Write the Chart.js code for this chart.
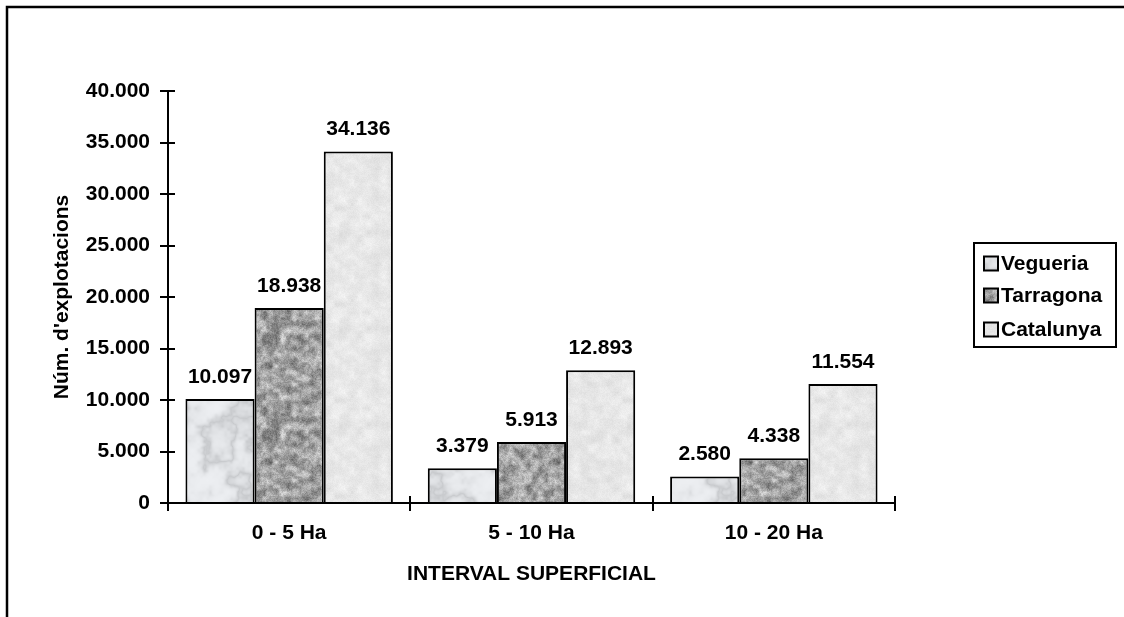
<!DOCTYPE html>
<html>
<head>
<meta charset="utf-8">
<script src="https://cdn.jsdelivr.net/npm/chart.js@4"></script>
<style>
  html, body { margin: 0; padding: 0; background: #ffffff; }
  #wrap { width: 1124px; height: 617px; position: relative; }
</style>
</head>
<body>
<div id="wrap"><canvas id="c" width="1124" height="617"></canvas></div>
<script>
// ---- data ----
const categories = ["0 - 5 Ha", "5 - 10 Ha", "10 - 20 Ha"];
const seriesNames = ["Vegueria", "Tarragona", "Catalunya"];
const vegueria = [10097, 3379, 2580];
const tarragona = [18938, 5913, 4338];
const catalunya = [34136, 12893, 11554];
const yTicks = [0, 5000, 10000, 15000, 20000, 25000, 30000, 35000, 40000];
const xTitle = "INTERVAL SUPERFICIAL";
const yTitle = "Núm. d'explotacions";

// ---- helpers ----
function fmt(v) {
  const s = String(Math.round(v));
  return s.replace(/\B(?=(\d{3})+(?!\d))/g, ".");
}
function hash(ix, iy, seed) {
  const h = Math.sin(ix * 127.1 + iy * 311.7 + seed * 74.7) * 43758.5453;
  return h - Math.floor(h);
}
function vnoise(x, y, period, seed) {
  const x0 = Math.floor(x), y0 = Math.floor(y);
  const fx = x - x0, fy = y - y0;
  const sx = fx * fx * (3 - 2 * fx), sy = fy * fy * (3 - 2 * fy);
  const m = (a) => ((a % period) + period) % period;
  const a = hash(m(x0), m(y0), seed), b = hash(m(x0 + 1), m(y0), seed);
  const c = hash(m(x0), m(y0 + 1), seed), d = hash(m(x0 + 1), m(y0 + 1), seed);
  const top = a + (b - a) * sx, bot = c + (d - c) * sx;
  return top + (bot - top) * sy;
}
function fbm(x, y, basePeriod, seed, oct) {
  let v = 0, amp = 0.5, tot = 0, f = 1;
  for (let o = 0; o < oct; o++) {
    v += amp * vnoise(x * f, y * f, basePeriod * f, seed + o);
    tot += amp; amp *= 0.5; f *= 2;
  }
  return v / tot;
}
function makePattern(kind) {
  const S = 96;
  const cv = document.createElement("canvas");
  cv.width = S; cv.height = S;
  const g = cv.getContext("2d");
  const img = g.createImageData(S, S);
  for (let y = 0; y < S; y++) {
    for (let x = 0; x < S; x++) {
      let r, gg, b;
      if (kind === 0) {
        // soft marble-like light bluish grey (seamless)
        const n = fbm(x / 24, y / 24, 4, 3, 4);
        const ridge = 1 - Math.abs(2 * n - 1);
        const c = 240 - 34 * Math.pow(ridge, 5) - 8 * n;
        r = c - 2; gg = c; b = c + 3;
      } else if (kind === 1) {
        // granite mid grey
        const n = fbm(x / 6, y / 6, 16, 11, 3);
        const n2 = hash(x, y, 5);
        let c = 158 + 150 * (n - 0.5) + 30 * (n2 - 0.5);
        c = Math.max(80, Math.min(220, c));
        r = c; gg = c; b = c;
      } else {
        // light speckle
        const n = fbm(x / 8, y / 8, 12, 21, 3);
        const n2 = hash(x, y, 9);
        const c = 248 - 26 * n - 8 * n2;
        r = c; gg = c; b = c;
      }
      const i = (y * S + x) * 4;
      img.data[i] = r; img.data[i + 1] = gg; img.data[i + 2] = b; img.data[i + 3] = 255;
    }
  }
  g.putImageData(img, 0, 0);
  return g.createPattern(cv, "repeat");
}

const ctx = document.getElementById("c").getContext("2d");
const fills = [makePattern(0), makePattern(1), makePattern(2)];
const FONT = "'Liberation Sans', Arial, Helvetica, sans-serif";
const FS = 21;

// ---- plugins ----
const frameAndExtras = {
  id: "frameAndExtras",
  beforeDraw(chart) {
    const c = chart.ctx;
    c.save();
    c.fillStyle = "#ffffff";
    c.fillRect(0, 0, chart.width, chart.height);
    c.restore();
  },
  afterDraw(chart) {
    const c = chart.ctx;
    const xs = chart.scales.x, ys = chart.scales.y;
    c.save();
    // outer frame (left and top edges)
    c.strokeStyle = "#000";
    c.lineWidth = 2.5;
    c.beginPath();
    c.moveTo(7, chart.height);
    c.lineTo(7, 7);
    c.lineTo(chart.width, 7);
    c.stroke();
    // inward halves of crossing tick marks
    c.lineWidth = 2;
    c.beginPath();
    ys.ticks.forEach((t, i) => {
      const py = Math.round(ys.getPixelForTick(i));
      c.moveTo(xs.left, py); c.lineTo(xs.left + 7, py);
    });
    const step = xs.getPixelForValue(1) - xs.getPixelForValue(0);
    for (let i = 0; i <= categories.length; i++) {
      const px = Math.round(xs.getPixelForValue(0) - step / 2 + i * step);
      c.moveTo(px, ys.bottom); c.lineTo(px, ys.bottom - 7);
    }
    c.stroke();
    // legend
    const lx = 974, ly = 243, lw = 142, lh = 104;
    c.lineWidth = 2;
    c.strokeRect(lx, ly, lw, lh);
    const rows = [263.5, 295.5, 329.5];
    c.font = "bold " + FS + "px " + FONT;
    c.textBaseline = "middle";
    c.textAlign = "left";
    chart.data.datasets.forEach((ds, i) => {
      const cy = rows[i];
      c.fillStyle = ds.backgroundColor;
      c.fillRect(984, cy - 7, 14, 14);
      c.strokeStyle = "#000";
      c.lineWidth = 2;
      c.strokeRect(984, cy - 7, 14, 14);
      c.fillStyle = "#000";
      c.fillText(ds.label, 1001, cy + 1);
    });
    c.restore();
  },
  afterDatasetsDraw(chart) {
    const c = chart.ctx;
    c.save();
    c.font = "bold " + FS + "px " + FONT;
    c.fillStyle = "#000";
    c.textAlign = "center";
    c.textBaseline = "alphabetic";
    chart.data.datasets.forEach((ds, di) => {
      const meta = chart.getDatasetMeta(di);
      meta.data.forEach((el, i) => {
        c.fillText(fmt(ds.data[i]), el.x, el.y - 16);
      });
    });
    c.restore();
  }
};

new Chart(ctx, {
  type: "bar",
  data: {
    labels: categories,
    datasets: [
      { label: seriesNames[0], data: vegueria, backgroundColor: fills[0] },
      { label: seriesNames[1], data: tarragona, backgroundColor: fills[1] },
      { label: seriesNames[2], data: catalunya, backgroundColor: fills[2] }
    ].map(d => Object.assign(d, { borderColor: "#000", borderWidth: 2, categoryPercentage: 0.856, barPercentage: 1.0 }))
  },
  options: {
    responsive: false,
    animation: false,
    devicePixelRatio: 1,
    layout: { padding: { left: 0, top: 91, right: 229, bottom: 0 } },
    plugins: {
      legend: { display: false },
      tooltip: { enabled: false }
    },
    scales: {
      x: {
        grid: { display: true, drawOnChartArea: false, drawTicks: true, tickLength: 8, color: "#000", lineWidth: 2, offset: true },
        border: { display: true, color: "#000", width: 2 },
        ticks: { color: "#000", font: { family: FONT, size: FS, weight: "bold" }, padding: 10, maxRotation: 0 },
        title: { display: true, text: xTitle, color: "#000", font: { family: FONT, size: FS, weight: "bold" }, padding: { top: 0, bottom: 30 } },
        afterFit(scale) { scale.height = 114; }
      },
      y: {
        min: 0, max: 40000,
        afterBuildTicks(scale) { scale.ticks = yTicks.map(v => ({ value: v })); },
        grid: { display: true, drawOnChartArea: false, drawTicks: true, tickLength: 8, color: "#000", lineWidth: 2 },
        border: { display: true, color: "#000", width: 2 },
        ticks: { color: "#000", font: { family: FONT, size: FS, weight: "bold" }, padding: 10, callback: (v) => fmt(v) },
        title: { display: true, text: yTitle, color: "#000", font: { family: FONT, size: FS, weight: "bold" }, padding: { top: 50, bottom: 0 } },
        afterFit(scale) { scale.width = 168; }
      }
    }
  },
  plugins: [frameAndExtras]
});
</script>
</body>
</html>
